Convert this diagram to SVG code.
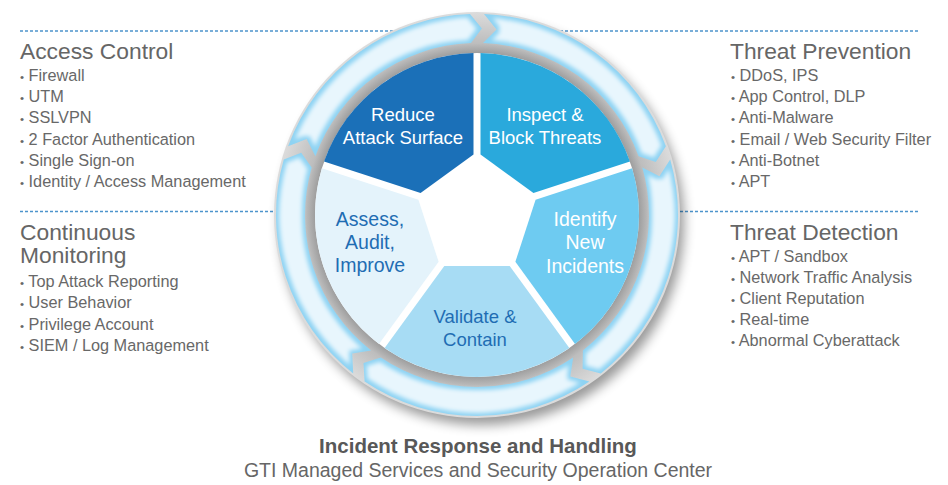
<svg xmlns="http://www.w3.org/2000/svg" width="948" height="485" viewBox="0 0 948 485">
<style>
text{font-family:"Liberation Sans",Arial,sans-serif}
.h{font-size:22.8px;fill:#666}
.it{font-size:16.3px;fill:#686868}
.b{font-size:11.5px}
.sw{font-size:18.5px;fill:#fff;text-anchor:middle}
.sb{font-size:18.5px;fill:#1f6db3;text-anchor:middle}
.lg{font-size:19.5px}
.dash{stroke:#4d94cc;stroke-width:1.3;stroke-dasharray:3 2;fill:none}
.arr-edge{fill:#8ed3f3}
.arr-fill{fill:#e8f6fd;filter:url(#inner)}
</style>
<defs>
<filter id="blur" x="-20%" y="-20%" width="140%" height="140%"><feGaussianBlur stdDeviation="6"/></filter>
<filter id="inner" x="-10%" y="-10%" width="120%" height="120%"><feMorphology operator="erode" radius="3"/><feGaussianBlur stdDeviation="2"/></filter>
<radialGradient id="track" cx="477" cy="215" r="203" gradientUnits="userSpaceOnUse">
<stop offset="0.79" stop-color="#999"/>
<stop offset="0.845" stop-color="#bdbdbd"/>
<stop offset="1" stop-color="#dcdcdc"/>
</radialGradient>
</defs>
<rect width="948" height="485" fill="#fff"/>

<g id="dividers">
<line class="dash" x1="20" y1="31" x2="920" y2="31"/>
<line class="dash" x1="20" y1="211.5" x2="920" y2="211.5"/>
</g>

<g id="wheel-base">
<circle cx="482" cy="223" r="202" fill="#000" opacity="0.4" filter="url(#blur)"/>
<circle cx="477" cy="215" r="203" fill="url(#track)"/>
<circle cx="477" cy="215" r="162" fill="#fff"/>
</g>

<g id="connectors">
<path class="arr-edge" d="M288.1,146.3 A201,201 0 0,1 470,14.1 L481.9,28.6 L471,43.1 A172,172 0 0,0 315.4,156.2 L306.6,139.1 Z"/>
<path class="arr-fill" d="M288.1,146.3 A201,201 0 0,1 470,14.1 L481.9,28.6 L471,43.1 A172,172 0 0,0 315.4,156.2 L306.6,139.1 Z"/>
<path class="arr-edge" d="M484,14.1 A201,201 0 0,1 665.9,146.3 L655.8,162 L638.6,156.2 A172,172 0 0,0 483,43.1 L496.5,29.5 Z"/>
<path class="arr-fill" d="M484,14.1 A201,201 0 0,1 665.9,146.3 L655.8,162 L638.6,156.2 A172,172 0 0,0 483,43.1 L496.5,29.5 Z"/>
<path class="arr-edge" d="M670.2,159.6 A201,201 0 0,1 600.8,373.4 L582.6,368.7 L582.9,350.5 A172,172 0 0,0 642.3,167.6 L659.4,176.2 Z"/>
<path class="arr-fill" d="M670.2,159.6 A201,201 0 0,1 600.8,373.4 L582.6,368.7 L582.9,350.5 A172,172 0 0,0 642.3,167.6 L659.4,176.2 Z"/>
<path class="arr-edge" d="M589.4,381.6 A201,201 0 0,1 364.6,381.6 L363.5,363 L380.8,357.6 A172,172 0 0,0 573.2,357.6 L570.3,376.5 Z"/>
<path class="arr-fill" d="M589.4,381.6 A201,201 0 0,1 364.6,381.6 L363.5,363 L380.8,357.6 A172,172 0 0,0 573.2,357.6 L570.3,376.5 Z"/>
<path class="arr-edge" d="M353.2,373.4 A201,201 0 0,1 283.8,159.6 L301.2,152.7 L311.7,167.6 A172,172 0 0,0 371.1,350.5 L352.2,353.6 Z"/>
<path class="arr-fill" d="M353.2,373.4 A201,201 0 0,1 283.8,159.6 L301.2,152.7 L311.7,167.6 A172,172 0 0,0 371.1,350.5 L352.2,353.6 Z"/>
</g>

<g id="reduce">
<path d="M420.58,192.98 L324.04,161.62 A162,162 0 0,1 473.49,53.04 L473.5,154.55 Z" fill="#1b70b8"/>
<text class="sw" x="403" y="121">Reduce</text>
<text class="sw" x="403" y="144">Attack Surface</text>
</g>
<g id="inspect">
<path d="M480.5,154.55 L480.51,53.04 A162,162 0 0,1 629.96,161.62 L533.42,192.98 Z" fill="#2aa9dc"/>
<text class="sw" x="545" y="121">Inspect &amp;</text>
<text class="sw" x="545" y="144">Block Threats</text>
</g>
<g id="identify">
<path d="M535.58,199.65 L632.12,168.28 A162,162 0 0,1 575.04,343.97 L515.37,261.85 Z" fill="#6ecbf1"/>
<text class="sw lg" x="585" y="226">Identify</text>
<text class="sw lg" x="585" y="249">New</text>
<text class="sw lg" x="585" y="272.5">Incidents</text>
</g>
<g id="validate">
<path d="M509.7,265.97 L569.37,348.08 A162,162 0 0,1 384.63,348.08 L444.3,265.97 Z" fill="#a7dcf4"/>
<text class="sb" x="475" y="323">Validate &amp;</text>
<text class="sb" x="475" y="346">Contain</text>
</g>
<g id="assess">
<path d="M438.63,261.85 L378.96,343.97 A162,162 0 0,1 321.88,168.28 L418.42,199.65 Z" fill="#e4f3fb"/>
<text class="sb lg" x="370" y="226">Assess,</text>
<text class="sb lg" x="370" y="249">Audit,</text>
<text class="sb lg" x="370" y="271.5">Improve</text>
</g>

<g id="access-control">
<text class="h" x="20" y="58.5">Access Control</text>
<text class="it" x="20" y="80.5"><tspan class="b">•</tspan> Firewall</text>
<text class="it" x="20" y="102"><tspan class="b">•</tspan> UTM</text>
<text class="it" x="20" y="123.3"><tspan class="b">•</tspan> SSLVPN</text>
<text class="it" x="20" y="144.6"><tspan class="b">•</tspan> 2 Factor Authentication</text>
<text class="it" x="20" y="166"><tspan class="b">•</tspan> Single Sign-on</text>
<text class="it" x="20" y="187.3"><tspan class="b">•</tspan> Identity / Access Management</text>
</g>

<g id="continuous-monitoring">
<text class="h" x="20" y="239.5">Continuous</text>
<text class="h" x="20" y="263">Monitoring</text>
<text class="it" x="20" y="287"><tspan class="b">•</tspan> Top Attack Reporting</text>
<text class="it" x="20" y="308"><tspan class="b">•</tspan> User Behavior</text>
<text class="it" x="20" y="329.5"><tspan class="b">•</tspan> Privilege Account</text>
<text class="it" x="20" y="351"><tspan class="b">•</tspan> SIEM / Log Management</text>
</g>

<g id="threat-prevention">
<text class="h" x="730" y="58.5">Threat Prevention</text>
<text class="it" x="731" y="80.5"><tspan class="b">•</tspan> DDoS, IPS</text>
<text class="it" x="731" y="102"><tspan class="b">•</tspan> App Control, DLP</text>
<text class="it" x="731" y="123.3"><tspan class="b">•</tspan> Anti-Malware</text>
<text class="it" x="731" y="144.6"><tspan class="b">•</tspan> Email / Web Security Filter</text>
<text class="it" x="731" y="166"><tspan class="b">•</tspan> Anti-Botnet</text>
<text class="it" x="731" y="187.3"><tspan class="b">•</tspan> APT</text>
</g>

<g id="threat-detection">
<text class="h" x="730" y="239.5">Threat Detection</text>
<text class="it" x="731" y="261.5"><tspan class="b">•</tspan> APT / Sandbox</text>
<text class="it" x="731" y="283"><tspan class="b">•</tspan> Network Traffic Analysis</text>
<text class="it" x="731" y="304"><tspan class="b">•</tspan> Client Reputation</text>
<text class="it" x="731" y="325"><tspan class="b">•</tspan> Real-time</text>
<text class="it" x="731" y="346"><tspan class="b">•</tspan> Abnormal Cyberattack</text>
</g>

<g id="caption">
<text x="478" y="453" text-anchor="middle" font-size="20.5" font-weight="bold" fill="#585858">Incident Response and Handling</text>
<text x="478" y="477" text-anchor="middle" font-size="19.5" fill="#666">GTI Managed Services and Security Operation Center</text>
</g>
</svg>
